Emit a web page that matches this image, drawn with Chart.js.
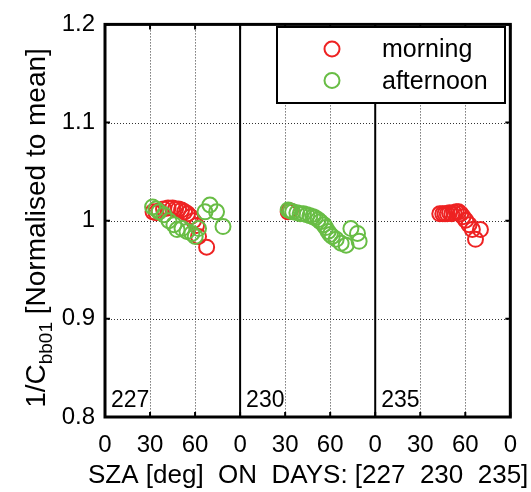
<!DOCTYPE html>
<html>
<head>
<meta charset="utf-8">
<script src="https://cdn.jsdelivr.net/npm/chart.js@4.4.0/dist/chart.umd.min.js"></script>
<style>
html, body { margin: 0; padding: 0; background: #fff; }
#wrap { width: 531px; height: 492px; }
</style>
</head>
<body>
<div id="wrap"><canvas id="szaChart" width="531" height="492"></canvas></div>
<script>
const DAYS = ['227', '230', '235'];
const PANEL_WIDTH = 90;
const X_TICKS = [0, 30, 60, 90, 120, 150, 180, 210, 240, 270];
const Y_TICKS = [0.8, 0.9, 1.0, 1.1, 1.2];
const Y_TICK_LABELS = ['0.8', '0.9', '1', '1.1', '1.2'];

// morning runs, SZA [deg] and normalised 1/Cbb01
const morningSza227 = [32, 34, 36, 39, 42, 45, 47, 49, 51, 53, 55, 57, 59, 61, 62.3, 67.7];
const morningVal227 = [1.009, 1.008, 1.010, 1.012, 1.013, 1.013, 1.012, 1.012, 1.011, 1.009, 1.007, 1.004, 1.000, 0.995, 0.984, 0.973];
const morningSza230 = [32, 33.5];
const morningVal230 = [1.009, 1.010];
const morningSza235 = [43, 45, 46.5, 48, 49.5, 51, 52.5, 54, 55.5, 57, 58.5, 60.3, 62.5, 64.7, 66.8, 70.1];
const morningVal235 = [1.007, 1.007, 1.007, 1.007, 1.008, 1.007, 1.008, 1.009, 1.009, 1.007, 1.004, 1.0005, 0.996, 0.991, 0.981, 0.991];

// afternoon runs
const afternoonSza227 = [31.7, 33.9, 36, 39.3, 42.6, 45.9, 48, 51.3, 54.6, 57.9, 60.1, 62.3, 66.6, 69.9, 74.3, 78.6];
const afternoonVal227 = [1.014, 1.012, 1.009, 1.006, 1.000, 0.996, 0.991, 0.992, 0.989, 0.987, 0.984, 0.992, 1.009, 1.016, 1.009, 0.994];
const afternoonSza230 = [32, 33.5, 35, 37.8, 40, 42.2, 44.5, 46.5, 48.5, 50, 52, 53.5, 55.7, 57, 58.6, 60, 61.4, 64, 67.3, 70.6, 73.8, 78.2, 79.3];
const afternoonVal230 = [1.011, 1.010, 1.009, 1.008, 1.007, 1.007, 1.006, 1.005, 1.004, 1.003, 1.001, 0.999, 0.996, 0.993, 0.989, 0.986, 0.984, 0.981, 0.977, 0.975, 0.992, 0.987, 0.979];
const afternoonSza235 = [];
const afternoonVal235 = [];

const RED = '#ee2222';
const GREEN = '#68bd45';
const FONT = "'Liberation Sans', Arial, sans-serif";

// each day gets its own 0-90 deg panel along the x axis
const toPoints = (sza, val, day) => sza.map((s, i) => ({ x: s + day * PANEL_WIDTH, y: val[i] }));

const morningPoints = [
    ...toPoints(morningSza227, morningVal227, 0),
    ...toPoints(morningSza230, morningVal230, 1),
    ...toPoints(morningSza235, morningVal235, 2)
];
const afternoonPoints = [
    ...toPoints(afternoonSza227, afternoonVal227, 0),
    ...toPoints(afternoonSza230, afternoonVal230, 1),
    ...toPoints(afternoonSza235, afternoonVal235, 2)
];

// grid, frame, day labels, axis titles and legend box
const panelPlugin = {
    id: 'panels',
    beforeDatasetsDraw(chart) {
        const { ctx, chartArea: a, scales: { x, y } } = chart;
        ctx.save();
        ctx.strokeStyle = '#333';
        ctx.lineWidth = 1;
        ctx.setLineDash([1, 2]);
        X_TICKS.filter(v => v % PANEL_WIDTH !== 0).forEach(v => {
            const px = Math.round(x.getPixelForValue(v)) + 0.5;
            ctx.beginPath(); ctx.moveTo(px, a.top); ctx.lineTo(px, a.bottom); ctx.stroke();
        });
        Y_TICKS.slice(1, -1).forEach(v => {
            const py = Math.round(y.getPixelForValue(v)) + 0.5;
            ctx.beginPath(); ctx.moveTo(a.left, py); ctx.lineTo(a.right, py); ctx.stroke();
        });
        ctx.restore();
    },
    afterDatasetsDraw(chart) {
        const { ctx, chartArea: a, scales: { x, y } } = chart;
        ctx.save();
        ctx.strokeStyle = '#000';

        // inward tick marks
        ctx.lineWidth = 2;
        X_TICKS.forEach(v => {
            const px = x.getPixelForValue(v);
            ctx.beginPath();
            ctx.moveTo(px, a.bottom); ctx.lineTo(px, a.bottom - 5);
            ctx.moveTo(px, a.top); ctx.lineTo(px, a.top + 5);
            ctx.stroke();
        });
        Y_TICKS.forEach(v => {
            const py = y.getPixelForValue(v);
            ctx.beginPath();
            ctx.moveTo(a.left, py); ctx.lineTo(a.left + 5, py);
            ctx.moveTo(a.right, py); ctx.lineTo(a.right - 5, py);
            ctx.stroke();
        });

        // day separators
        ctx.lineWidth = 2;
        [1, 2].forEach(d => {
            const px = x.getPixelForValue(d * PANEL_WIDTH);
            ctx.beginPath(); ctx.moveTo(px, a.top); ctx.lineTo(px, a.bottom); ctx.stroke();
        });

        // frame
        ctx.lineWidth = 3;
        ctx.strokeRect(a.left, a.top, a.right - a.left, a.bottom - a.top);

        // day labels in the lower left of each panel
        ctx.fillStyle = '#000';
        ctx.font = `23px ${FONT}`;
        ctx.textAlign = 'left';
        ctx.textBaseline = 'alphabetic';
        DAYS.forEach((d, i) => {
            ctx.fillText(d, x.getPixelForValue(i * PANEL_WIDTH) + 6, a.bottom - 10);
        });

        // x title
        ctx.font = `26px ${FONT}`;
        ctx.fillText('SZA [deg]  ON  DAYS: [' + DAYS.join('  ') + ']', 88, 483);

        // y title with subscript
        ctx.save();
        ctx.translate(45, 228);
        ctx.rotate(-Math.PI / 2);
        const bigFont = `28px ${FONT}`;
        const smallFont = `19px ${FONT}`;
        const partA = '1/C', partB = 'bb01', partC = ' [Normalised to mean]';
        ctx.font = bigFont;
        const wA = ctx.measureText(partA).width, wC = ctx.measureText(partC).width;
        ctx.font = smallFont;
        const wB = ctx.measureText(partB).width;
        let cx = -(wA + wB + wC) / 2;
        ctx.font = bigFont; ctx.fillText(partA, cx, 0); cx += wA;
        ctx.font = smallFont; ctx.fillText(partB, cx, 7); cx += wB;
        ctx.font = bigFont; ctx.fillText(partC, cx, 0);
        ctx.restore();

        // legend
        const box = { x: 277, y: 27, w: 228, h: 76 };
        ctx.fillStyle = '#fff';
        ctx.fillRect(box.x, box.y, box.w, box.h);
        ctx.lineWidth = 2;
        ctx.strokeRect(box.x, box.y, box.w, box.h);
        chart.data.datasets.forEach((ds, i) => {
            const cy = 49 + i * 31.5;
            ctx.beginPath();
            ctx.arc(332, cy, 7.5, 0, Math.PI * 2);
            ctx.strokeStyle = ds.borderColor;
            ctx.lineWidth = 2;
            ctx.stroke();
            ctx.fillStyle = '#000';
            ctx.font = `25px ${FONT}`;
            ctx.fillText(ds.label, 382, cy + 8);
        });
        ctx.restore();
    }
};

new Chart(document.getElementById('szaChart'), {
    type: 'scatter',
    data: {
        datasets: [
            {
                label: 'morning',
                data: morningPoints,
                borderColor: RED,
                backgroundColor: 'rgba(0,0,0,0)',
                pointRadius: 7.5,
                pointBorderWidth: 2,
                order: 2
            },
            {
                label: 'afternoon',
                data: afternoonPoints,
                borderColor: GREEN,
                backgroundColor: 'rgba(0,0,0,0)',
                pointRadius: 7.5,
                pointBorderWidth: 2,
                order: 1
            }
        ]
    },
    options: {
        responsive: false,
        animation: false,
        events: [],
        layout: { padding: { left: 0, right: 14, top: 14, bottom: 0 } },
        plugins: { legend: { display: false }, tooltip: { enabled: false } },
        scales: {
            x: {
                type: 'linear',
                min: 0,
                max: 3 * PANEL_WIDTH,
                afterBuildTicks: (scale) => { scale.ticks = X_TICKS.map(v => ({ value: v })); },
                afterFit: (scale) => { scale.height = 75; },
                grid: { display: false, drawTicks: false },
                border: { display: false },
                ticks: {
                    padding: 14,
                    maxRotation: 0,
                    autoSkip: false,
                    color: '#000',
                    font: { family: FONT, size: 24 },
                    callback: (v) => String(v % PANEL_WIDTH)
                }
            },
            y: {
                min: 0.8,
                max: 1.2,
                afterBuildTicks: (scale) => { scale.ticks = Y_TICKS.map(v => ({ value: v })); },
                afterFit: (scale) => { scale.width = 105; },
                grid: { display: false, drawTicks: false },
                border: { display: false },
                ticks: {
                    padding: 10,
                    color: '#000',
                    font: { family: FONT, size: 24 },
                    callback: (v, i) => Y_TICK_LABELS[i]
                }
            }
        }
    },
    plugins: [panelPlugin]
});
</script>
</body>
</html>
